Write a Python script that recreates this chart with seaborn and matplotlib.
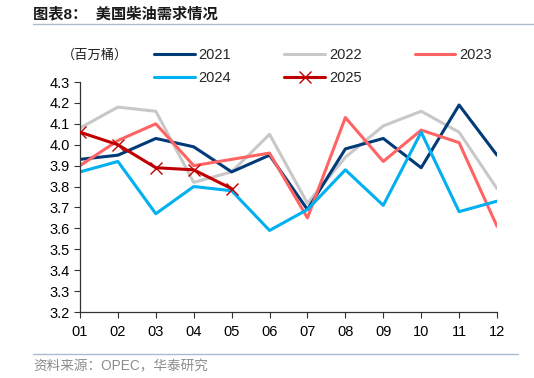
import numpy as np
import pandas as pd
import matplotlib
matplotlib.use('Agg')
import matplotlib.pyplot as plt
import seaborn as sns

months = ['01', '02', '03', '04', '05', '06', '07', '08', '09', '10', '11', '12']
y2021 = [3.93, 3.95, 4.03, 3.99, 3.87, 3.95, 3.69, 3.98, 4.03, 3.89, 4.19, 3.95]
y2022 = [4.08, 4.18, 4.16, 3.82, 3.87, 4.05, 3.72, 3.94, 4.09, 4.16, 4.06, 3.79]
y2023 = [3.90, 4.02, 4.10, 3.90, 3.93, 3.96, 3.65, 4.13, 3.92, 4.07, 4.01, 3.61]
y2024 = [3.87, 3.92, 3.67, 3.80, 3.78, 3.59, 3.69, 3.88, 3.71, 4.06, 3.68, 3.73]
y2025 = [4.06, 4.00, 3.89, 3.88, 3.79]

series = {'2021': y2021, '2022': y2022, '2023': y2023, '2024': y2024, '2025': y2025}
colors = {'2021': '#003A78', '2022': '#C8C8C8', '2023': '#FF6464',
          '2024': '#00B0F0', '2025': '#C00000'}

sns.set_style('ticks')
plt.rcParams['font.family'] = ['Liberation Sans', 'Noto Sans CJK SC', 'DejaVu Sans']

fig = plt.figure(figsize=(5.34, 3.78), dpi=100)
ax = fig.add_axes([80 / 534, 1 - 312 / 378, 417 / 534, 230 / 378])

for year in ['2022', '2021', '2023', '2024', '2025']:
    vals = series[year]
    df = pd.DataFrame({'month': months[:len(vals)], 'value': vals})
    if year == '2025':
        sns.lineplot(data=df, x='month', y='value', ax=ax, color=colors[year],
                     linewidth=2.2, marker='x', markersize=8, markeredgewidth=1.0,
                     markeredgecolor=colors[year], label=year, zorder=5)
    else:
        sns.lineplot(data=df, x='month', y='value', ax=ax, color=colors[year],
                     linewidth=2.2, label=year)

ax.set_xlim(0, 11)
ax.set_ylim(3.2, 4.3)
ax.set_yticks(np.arange(3.2, 4.31, 0.1))
ax.set_yticklabels([f'{v:.1f}' for v in np.arange(3.2, 4.31, 0.1)])
ax.set_xlabel('')
ax.set_ylabel('')
ax.tick_params(axis='both', labelsize=10.5, length=4, width=0.8, colors='#333333',
               labelcolor='black')
ax.tick_params(axis='x', pad=5)
for s in ['left', 'bottom']:
    ax.spines[s].set_linewidth(0.9)
    ax.spines[s].set_color('#333333')
sns.despine(ax=ax)

# legend is filled column by column, so order it to read row by row
handles, labels = ax.get_legend_handles_labels()
hmap = dict(zip(labels, handles))
order = ['2021', '2024', '2022', '2025', '2023']
ax.legend([hmap[k] for k in order], order, loc='upper left', ncol=3,
          bbox_to_anchor=(154 / 534, 1 - 48 / 378), bbox_transform=fig.transFigure,
          frameon=False, fontsize=10.5, handlelength=2.8, handletextpad=0.25,
          columnspacing=3.65, labelspacing=0.6, borderpad=0, borderaxespad=0)

fig.text(62 / 534, 1 - 55 / 378, '（百万桶）', fontsize=9.5, va='center', ha='left',
         color='#222222')

fig.text(33 / 534, 1 - 14 / 378, '图表8：  美国柴油需求情况', fontsize=11,
         fontweight='bold', va='center', ha='left', color='#1a1a1a')
fig.add_artist(plt.Line2D([33 / 534, 1.0], [1 - 24 / 378, 1 - 24 / 378],
                          color='#A9BBCD', linewidth=1.0))
fig.add_artist(plt.Line2D([33 / 534, 518 / 534], [1 - 354 / 378, 1 - 354 / 378],
                          color='#A9BBCD', linewidth=1.0))
fig.text(33 / 534, 1 - 366 / 378, '资料来源：OPEC，华泰研究', fontsize=9.8,
         va='center', ha='left', color='#8c8c8c')

fig.savefig('out.png', dpi=100)
